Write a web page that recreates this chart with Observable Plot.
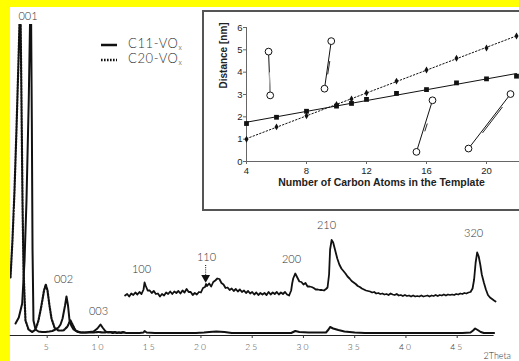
<!DOCTYPE html>
<html><head><meta charset="utf-8">
<script src="https://cdn.jsdelivr.net/npm/d3@7"></script>
<script src="https://cdn.jsdelivr.net/npm/@observablehq/plot@0.6"></script>
<style>
html,body{margin:0;padding:0;width:519px;height:361px;overflow:hidden;background:#ffff00;}
#main{position:absolute;left:10px;top:7px;width:509px;}
#inset{position:absolute;left:202px;top:10px;width:400px;}
#legend{position:absolute;left:0;top:0;}
#main g[aria-label="x-axis tick label"] text{letter-spacing:2px;}
#main text{font-family:Lato,"Open Sans",sans-serif;font-weight:300;}
</style></head><body>
<div id="main"></div><div id="inset"></div>
<svg id="legend" width="200" height="80" style="position:absolute;left:0;top:0">
  <line x1="101" x2="117" y1="45" y2="45" stroke="#111" stroke-width="2.5"/>
  <line x1="101" x2="117" y1="60" y2="60" stroke="#111" stroke-width="2.5" stroke-dasharray="1.6,1.4"/>
  <text x="128" y="47.5" font-family="Lato,'Open Sans',sans-serif" font-weight="300" font-size="13" fill="#333" letter-spacing="0.6">C11-VO<tspan font-size="7" dy="2">x</tspan></text>
  <text x="128" y="62.5" font-family="Lato,'Open Sans',sans-serif" font-weight="300" font-size="13" fill="#333" letter-spacing="0.6">C20-VO<tspan font-size="7" dy="2">x</tspan></text>
</svg>
<script>
// ---- main XRD pattern (2theta in degrees, intensity in arbitrary units) ----
const xTicks = [5,10,15,20,25,30,35,40,45];
const axisExtent = [1.4, 48.6];

const c11T = [1.91,2.23,2.56,2.79,2.98,3.2,3.32,3.42,3.5,3.57,3.66,3.86,4.15,4.5,4.83,5.2,5.5,5.8,6.1,6.3,6.5,6.74,6.88,7.03,7.18,7.27,7.4,7.57,7.96,8.4,8.74,9.1,9.52,9.9,10.05,10.2,10.4,10.7,11.0,11.2,11.4,11.6,11.8,12.0,12.2,12.4,12.7,13,13.5,14,14.4,14.5,14.7,15.5,16.5,17.5,18.5,19.5,20.3,20.8,21.5,22.3,23,24,25,26,27,28,28.8,29.2,29.6,30.5,31.5,32.2,32.45,32.6,32.9,33.4,34,35,36,38,40,42,44,45.5,46.3,46.55,46.75,47.0,47.3,47.6,48,48.6];
const c11I = [11,17,31,74,134,234,309,330,214,84,14,5,3,2.5,2.5,3,3.5,5,7,10,16,29,38,29,14,11,8,5,2.5,2,2,2.5,3,6,8,10,7,3,2,2.5,1.5,2.5,1.5,2,1.5,2.5,1.5,1.5,1.5,1.5,2,3.5,2,1.5,1.5,1.5,1.5,1.5,2,2.5,3,2.5,1.5,1.5,1.5,1.5,1.5,1.5,1.5,3.5,2.5,2,2,2,5,7.5,6,4.5,3,2,1.5,1.5,1.5,1.5,1.5,1.5,2,4,6,4.5,2.5,1.5,1.5,1.5];

const c20T = [1.42,1.61,1.81,2.0,2.2,2.29,2.39,2.49,2.59,2.69,2.88,3.18,3.54,3.86,4.15,4.44,4.69,4.86,5.03,5.22,5.42,5.71,6.1,6.59,6.98,7.15,7.27,7.47,7.76,8.25,8.8,9.4,10,10.5,11,11.5,12,12.5];
const c20I = [57,94,144,204,274,309,330,234,134,64,14,5,2.5,5,14,29,44,50,44,29,16,7,4,4,8,12,14,10,4,2,2,2,2.5,2,2.5,2,2,2];

// magnified C11 trace (offset upward)
const zoomT = [12.6,12.8,13.0,13.2,13.4,13.6,13.8,14.0,14.2,14.4,14.5,14.6,14.8,15.0,15.2,15.4,15.6,15.8,16.0,16.2,16.4,16.6,16.8,17.0,17.2,17.4,17.6,17.8,18.0,18.2,18.4,18.6,18.8,19.0,19.2,19.4,19.6,19.8,20.0,20.2,20.4,20.5,20.6,20.8,21.0,21.2,21.4,21.6,21.8,22.0,22.2,22.4,22.6,22.8,23.0,23.2,23.4,23.6,23.8,24.0,24.2,24.4,24.6,24.8,25.0,25.2,25.4,25.6,25.8,26.0,26.2,26.4,26.6,26.8,27.0,27.2,27.4,27.6,27.8,28.0,28.2,28.4,28.6,28.8,28.9,29.0,29.2,29.4,29.6,29.8,30.0,30.2,30.4,30.6,30.8,31.0,31.2,31.4,31.6,31.8,32.0,32.2,32.35,32.5,32.6,32.75,32.9,33.1,33.3,33.5,33.7,33.9,34.1,34.3,34.5,34.7,34.9,35.1,35.3,35.5,35.7,35.9,36.1,36.3,36.5,36.7,36.9,37.1,37.3,37.5,37.7,37.9,38.1,38.3,38.5,38.7,38.9,39.1,39.3,39.5,39.7,39.9,40.1,40.3,40.5,40.7,40.9,41.1,41.3,41.5,41.7,41.9,42.1,42.3,42.5,42.7,42.9,43.1,43.3,43.5,43.7,43.9,44.1,44.3,44.5,44.7,44.9,45.1,45.3,45.5,45.7,45.9,46.1,46.3,46.5,46.65,46.8,46.95,47.1,47.25,47.4,47.6,47.8,48.0,48.2,48.4,48.6,48.74];
const zoomI = [39,40.5,38,41,39.5,42,40,42.5,40.5,45,52,49,44,44,41.5,43.5,40.5,41,38,40.5,39,42,40.5,43,40.5,43,41.5,43.5,41,44,42,45.5,42.5,42.5,39.5,41.5,40,42.5,42,46.5,47.5,50.5,48.5,51,48,52.5,54,56,55.5,51.5,50,46.5,47,44.5,46,43.5,45.5,43,45,42.5,44,41.5,43.5,41,42.5,40,42,39.5,41.5,40,41.5,39.5,42.5,40,42,40.5,42.5,40,42,40.5,42.5,40,39,44,51,56,61,57,53,52.5,50,51.5,48,48,47.5,46.5,45,45,44.5,44.5,44,45.5,47,60,85,94.5,92,84,76,70,66,63.5,61,58,56,53.5,52,50.5,48.5,47.5,46,45,44,43.5,43,42,42.5,41,41.5,40.5,41,40,40.5,39.5,41,40,39.5,40.5,39,39.5,38.5,39.5,38.5,39,38,39,38,38.5,38,39,38,38.5,39,38,39,38.5,39.5,38.5,39.5,39,40,39,40,39.5,40,39.5,40.5,40,41,40.5,41.5,41,42,42.5,46,55,72,82,78,70,60,52,45,39.5,37,35.5,34,33,32];

const peakLabel = ["001","002","003","100","110","200","210","320"];
const peakT = [3.13,6.59,10.0,14.2,20.54,28.83,32.25,46.6];
const peakI = [318,55,23,65,77,75,109,101];
const arrowT = [20.46], arrowFrom = [69], arrowTo = [57];

const ink = "#111";
const main = Plot.plot({
  width: 509, height: 354,
  marginLeft: 0, marginRight: 0, marginTop: 17, marginBottom: 26,
  style: {background: "#fff", maxWidth: "none", color: "#333", overflow: "visible"},
  x: {domain: [1, 49], range: [-4.3, 487.7]},
  y: {domain: [-1, 300], range: [328, 27], axis: null},
  marks: [
    Plot.ruleY([-1], {x1: axisExtent[0], x2: axisExtent[1], stroke: "#222", strokeWidth: 1}),
    Plot.axisX(xTicks, {tickSize: 3, tickPadding: 5, fontSize: 8.5, label: null, stroke: "#333", fill: "#444"}),
    Plot.text(["2Theta"], {x: 47.57, frameAnchor: "bottom", dy: 23, textAnchor: "start", fontSize: 9, fill: "#333"}),
    Plot.line(c20T, {x: c20T, y: c20I, stroke: ink, strokeWidth: 2.2, strokeDasharray: "1.6,1.4", clip: true}),
    Plot.line(c11T, {x: c11T, y: c11I, stroke: ink, strokeWidth: 2, clip: true}),
    Plot.line(zoomT, {x: zoomT, y: zoomI, stroke: ink, strokeWidth: 1.8, strokeLinejoin: "round", clip: true}),
    Plot.text(peakLabel, {x: peakT, y: peakI, text: d => d, fontSize: 11, fill: "#333", letterSpacing: 1}),
    Plot.ruleX(arrowT, {y1: arrowFrom, y2: arrowTo, stroke: ink, strokeWidth: 1, strokeDasharray: "1,1.2"}),
    Plot.dot(arrowT, {x: arrowT, y: arrowTo, symbol: "triangle", rotate: 180, r: 3.3, fill: ink, stroke: "none"})
  ]
});
document.getElementById("main").append(main);

// ---- inset: distance vs number of carbon atoms ----
const carbon = [4,6,8,10,11,12,14,16,18,20,22];
const distSquares = [1.7,1.98,2.25,2.48,2.6,2.78,3.05,3.22,3.52,3.7,3.82];
const distDiamonds = [1.0,1.55,2.05,2.55,2.8,3.07,3.6,4.1,4.62,5.08,5.62];
const insetXTicks = [4,8,12,16,20];
const insetYTicks = [0,1,2,3,4,5,6];
// schematic molecules: end points (open circles)
const molX1 = [5.47,9.2,15.33,18.8], molY1 = [4.92,3.26,0.43,0.58];
const molX2 = [5.58,9.65,16.4,21.6], molY2 = [2.96,5.39,2.74,3.02];
const grayX1 = [5.52], grayY1 = [4.0], grayX2 = [5.58], grayY2 = [2.96];
const dblX1 = [9.28,15.75,19.6], dblY1 = [3.9,1.35,1.28], dblX2 = [9.42,15.92,20.93], dblY2 = [4.5,1.7,2.44];

const insetPlot = Plot.plot({
  width: 316, height: 197,
  marginLeft: 42, marginRight: 4, marginTop: 15, marginBottom: 48,
  style: {background: "#fff", border: "2px solid #555", maxWidth: "none", color: "#222",
          fontFamily: "'Liberation Sans', Arial, sans-serif", overflow: "visible"},
  x: {domain: [4, 22]},
  y: {domain: [0, 6]},
  marks: [
    Plot.ruleY([0], {x1: 4, x2: 22.3, stroke: "#666"}),
    Plot.ruleX([4], {y1: 0, y2: 6, stroke: "#666"}),
    Plot.axisX(insetXTicks, {tickSize: 3, tickPadding: 3, fontSize: 9.5, label: null, stroke: "#666"}),
    Plot.axisY(insetYTicks, {tickSize: 3, tickPadding: 1, fontSize: 9.5, label: null, stroke: "#666"}),
    Plot.text(["Number of Carbon Atoms in the Template"], {frameAnchor: "bottom", dy: 24, fontSize: 10.5, fontWeight: "bold", fill: "#222"}),
    Plot.text(["Distance [nm]"], {frameAnchor: "left", dx: -23, dy: -6, rotate: -90, fontSize: 10, fontWeight: "bold", fill: "#222"}),
    Plot.linearRegressionY(carbon, {x: carbon, y: distDiamonds, stroke: ink, strokeWidth: 1, strokeDasharray: "1.5,2", ci: 0}),
    Plot.linearRegressionY(carbon, {x: carbon, y: distSquares, stroke: ink, strokeWidth: 1, ci: 0}),
    Plot.dot(carbon, {x: carbon, y: distSquares, symbol: "square", r: 2.7, fill: ink}),
    Plot.dot(carbon, {x: carbon, y: distDiamonds, symbol: "diamond", r: 2.1, fill: ink}),
    Plot.link(molX1, {x1: molX1, y1: molY1, x2: molX2, y2: molY2, stroke: ink, strokeWidth: 1}),
    Plot.link(grayX1, {x1: grayX1, y1: grayY1, x2: grayX2, y2: grayY2, stroke: "#aaa", strokeWidth: 1.3}),
    Plot.link(dblX1, {x1: dblX1, y1: dblY1, x2: dblX2, y2: dblY2, stroke: ink, strokeWidth: 0.9, dx: 2}),
    Plot.dot(molX1, {x: molX1, y: molY1, r: 3.4, fill: "#fff", stroke: ink, strokeWidth: 1}),
    Plot.dot(molX2, {x: molX2, y: molY2, r: 3.4, fill: "#fff", stroke: ink, strokeWidth: 1})
  ]
});
document.getElementById("inset").append(insetPlot);
</script>
</body></html>
